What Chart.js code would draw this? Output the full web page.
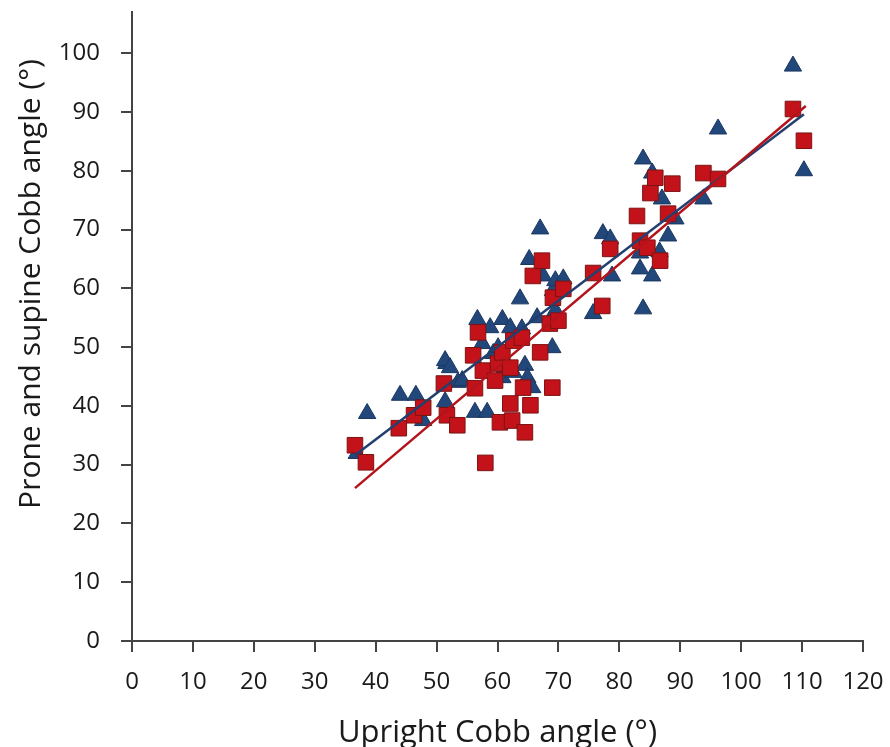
<!DOCTYPE html>
<html>
<head>
<meta charset="utf-8">
<script src="https://cdn.jsdelivr.net/npm/chart.js@4"></script>
<style>
  html, body { margin: 0; padding: 0; background: #fff; }
  #wrap { width: 890px; height: 747px; }
</style>
</head>
<body>
<div id="wrap"><canvas id="chart_1" width="890" height="747"></canvas></div>
<script>
// prone (triangles) vs upright
const proneX = [36.9, 38.6, 44.0, 46.6, 47.8, 51.4, 53.5, 51.6, 51.4, 52.2, 54.2, 56.3, 58.3, 56.7, 57.5, 58.8, 59.3, 60.1, 60.8, 60.8, 61.2, 62.1, 62.6, 63.7, 64.0, 64.5, 64.9, 65.2, 65.7, 66.5, 67.0, 67.5, 69.0, 69.1, 69.5, 69.5, 70.8, 75.7, 77.3, 78.5, 78.8, 83.4, 83.4, 83.9, 83.9, 85.4, 85.4, 86.6, 87.0, 88.0, 89.2, 93.8, 96.2, 108.5, 110.3];
const proneY = [31.9, 38.7, 41.8, 41.8, 37.5, 40.7, 44.0, 47.2, 47.7, 46.5, 44.3, 38.9, 38.9, 54.7, 50.6, 53.3, 48.9, 49.9, 54.7, 44.8, 46.5, 53.3, 45.7, 58.2, 53.1, 46.9, 44.8, 64.9, 43.1, 55.0, 70.1, 62.1, 49.9, 59.6, 56.2, 61.3, 61.6, 55.7, 69.3, 68.4, 62.1, 66.0, 63.3, 56.5, 82.0, 79.6, 62.1, 66.2, 75.2, 68.9, 71.8, 75.2, 87.1, 97.8, 80.0];
// supine (squares) vs upright
const supineX = [36.6, 38.4, 43.8, 46.3, 47.8, 51.2, 51.7, 53.4, 56.0, 56.3, 56.8, 57.6, 58.0, 59.6, 60.1, 60.4, 60.8, 62.1, 62.1, 62.4, 62.6, 64.0, 64.2, 64.5, 65.4, 65.8, 67.0, 67.3, 68.6, 69.0, 69.1, 70.0, 70.8, 75.7, 77.2, 78.5, 82.9, 83.4, 84.6, 85.1, 85.9, 86.7, 88.0, 88.7, 93.8, 96.2, 108.5, 110.3];
const supineY = [33.3, 30.4, 36.2, 38.4, 39.7, 43.8, 38.4, 36.7, 48.6, 43.0, 52.5, 46.0, 30.3, 44.3, 47.2, 37.2, 49.1, 46.5, 40.4, 37.5, 51.1, 51.6, 43.1, 35.5, 40.1, 62.1, 49.1, 64.7, 54.0, 43.1, 58.4, 54.5, 59.9, 62.6, 57.0, 66.7, 72.3, 68.1, 66.9, 76.2, 78.8, 64.7, 72.7, 77.8, 79.6, 78.6, 90.5, 85.1];
// fitted trend lines (end points)
const proneFitX = [36.6, 110.3];
const proneFitY = [31.6, 89.6];
const supineFitX = [36.6, 110.6];
const supineFitY = [26.0, 91.0];
const xTicks = [0, 10, 20, 30, 40, 50, 60, 70, 80, 90, 100, 110, 120];
const yTicks = [0, 10, 20, 30, 40, 50, 60, 70, 80, 90, 100];
const yTitle = 'Prone and supine Cobb angle (°)';

const toPts = (xs, ys) => xs.map((x, i) => ({ x: x, y: ys[i] }));

const blue = '#22477a';
const red = '#c4121a';
const axisCol = '#444444';
const txt = '#1a1a1a';

// y title sits a little above the middle of the axis in the original, so draw it by hand
const yTitlePlugin = {
    id: 'yTitle',
    afterDraw(chart) {
        const c = chart.ctx;
        c.save();
        c.translate(31, 284);
        c.rotate(-Math.PI / 2);
        c.font = '30px "Open Sans"';
        c.fillStyle = txt;
        c.textAlign = 'center';
        c.textBaseline = 'middle';
        c.fillText(yTitle, 0, 0);
        c.restore();
    }
};

const ctx1 = document.getElementById('chart_1').getContext('2d');
const myChart1 = new Chart(ctx1, {
    type: 'scatter',
    data: {
        datasets: [{
            type: 'line',
            data: toPts(supineFitX, supineFitY),
            borderColor: '#b3141c',
            borderWidth: 2.5,
            pointRadius: 0,
            fill: false
        }, {
            type: 'line',
            data: toPts(proneFitX, proneFitY),
            borderColor: '#233f6e',
            borderWidth: 2.5,
            pointRadius: 0,
            fill: false
        }, {
            label: 'Supine',
            data: toPts(supineX, supineY),
            pointStyle: 'rect',
            pointRadius: 11,
            backgroundColor: red,
            borderColor: '#7a1414',
            borderWidth: 1
        }, {
            label: 'Prone',
            data: toPts(proneX, proneY),
            pointStyle: 'triangle',
            pointRadius: 10,
            backgroundColor: blue,
            borderColor: '#1b3660',
            borderWidth: 1
        }]
    },
    plugins: [yTitlePlugin],
    options: {
        responsive: false,
        animation: false,
        layout: { padding: { top: 10, right: 27, left: 0, bottom: 0 } },
        plugins: { legend: { display: false }, tooltip: { enabled: false } },
        scales: {
            x: {
                type: 'linear',
                min: 0,
                max: 120,
                afterBuildTicks: (axis) => { axis.ticks = xTicks.map(v => ({ value: v })); },
                afterFit: (axis) => { axis.height = 106; axis.paddingLeft = 0; axis.paddingRight = 0; },
                border: { display: true, color: axisCol, width: 2 },
                grid: { drawOnChartArea: false, drawTicks: true, tickLength: 11, color: axisCol, lineWidth: 2 },
                ticks: { font: { family: 'Open Sans', size: 24 }, color: txt, padding: 16, maxRotation: 0 },
                title: {
                    display: true,
                    text: 'Upright Cobb angle (°)',
                    font: { family: 'Open Sans', size: 31, lineHeight: 1 },
                    color: txt,
                    padding: { top: 0, bottom: -2 }
                }
            },
            y: {
                type: 'linear',
                min: 0,
                max: 107,
                afterBuildTicks: (axis) => { axis.ticks = yTicks.map(v => ({ value: v })); },
                afterFit: (axis) => { axis.width = 132; axis.paddingTop = 0; axis.paddingBottom = 0; },
                border: { display: true, color: axisCol, width: 2 },
                grid: { drawOnChartArea: false, drawTicks: true, tickLength: 11, color: axisCol, lineWidth: 2 },
                ticks: { font: { family: 'Open Sans', size: 24 }, color: txt, padding: 21 }
            }
        }
    }
});
</script>
</body>
</html>
